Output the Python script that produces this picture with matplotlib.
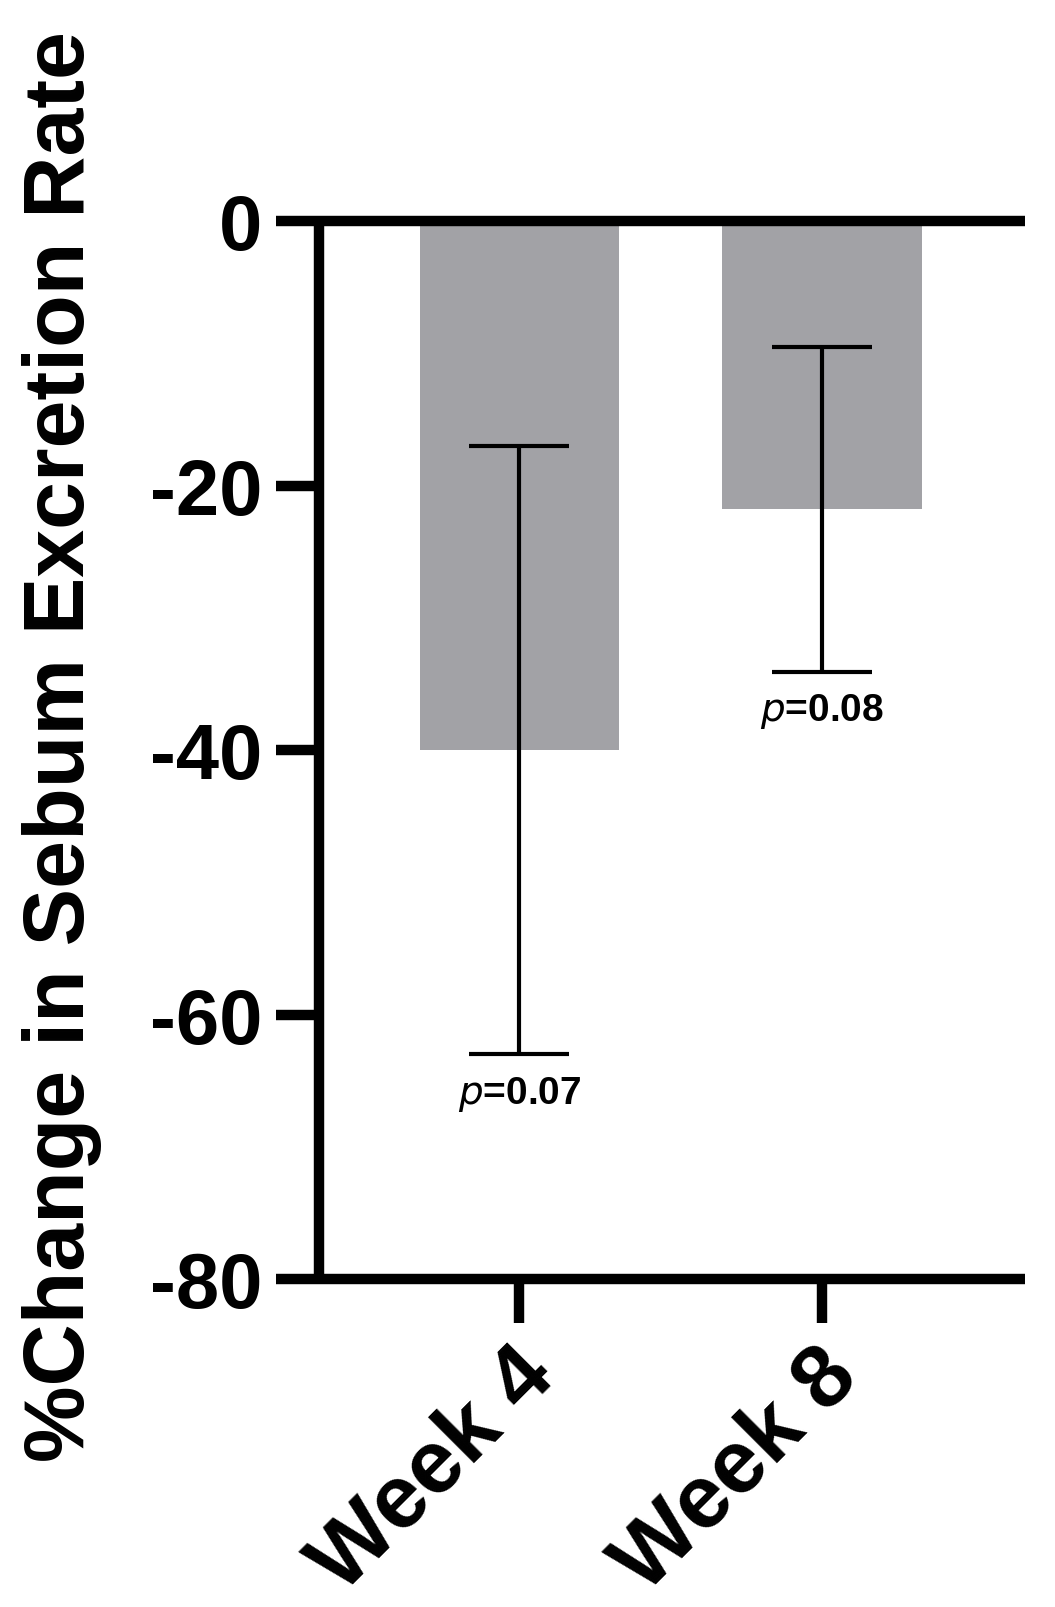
import matplotlib
matplotlib.use("Agg")
import matplotlib.pyplot as plt
import matplotlib.transforms as mtransforms
import numpy as np

categories = ["Week 4", "Week 8"]
means = [-40.0, -21.8]
errors = [23.0, 12.3]
p_labels = ["0.07", "0.08"]
yticks = [0, -20, -40, -60, -80]

plt.rcParams['font.family'] = ['Liberation Sans', 'DejaVu Sans']

W, H = 1055, 1608
fig = plt.figure(figsize=(W/100, H/100), dpi=100)
left, right, top, bottom = 319, 1025, 222, 1280
ax = fig.add_axes([left/W, 1 - bottom/H, (right-left)/W, (bottom-top)/H])

x = np.arange(len(categories))
ax.bar(x, means, width=0.66, color="#a2a2a6", zorder=1)
ax.errorbar(x, means, yerr=errors, fmt='none', ecolor='black', elinewidth=3.0,
            capsize=36, capthick=3.0, zorder=2)

for xi, m, e, p in zip(x, means, errors, p_labels):
    ax.annotate(r"$\mathit{p}$" + "=" + p, xy=(xi, m - e), xytext=(0, -14),
                textcoords="offset points", ha="center", va="top",
                fontsize=28, fontweight="bold")

ax.set_xlim(-0.662, 1.67)
ax.set_ylim(-80, 0)

for s in ["left", "top", "bottom"]:
    ax.spines[s].set_linewidth(7.5)
    ax.spines[s].set_capstyle("butt")
ax.spines["right"].set_visible(False)
ax.tick_params(axis="y", length=31, width=7.5, pad=10)
ax.tick_params(axis="x", length=32, width=7.5, pad=44)

ax.set_yticks(yticks)
ax.set_yticklabels([str(v) for v in yticks], fontsize=56, fontweight="bold")
ax.set_xticks(x)
ax.set_xticklabels(categories, fontsize=64, fontweight="bold", rotation=45,
                   ha="right", va="center", rotation_mode="anchor")
offset = mtransforms.ScaledTranslation(0.22, 0.22, fig.dpi_scale_trans)
for lab in ax.get_xticklabels():
    lab.set_transform(lab.get_transform() + offset)

fig.text(62/W, 1 - 746/H, "%Change in Sebum Excretion Rate", rotation=90,
         ha="center", va="center", fontsize=62, fontweight="bold")

fig.savefig("out.png", dpi=100)
